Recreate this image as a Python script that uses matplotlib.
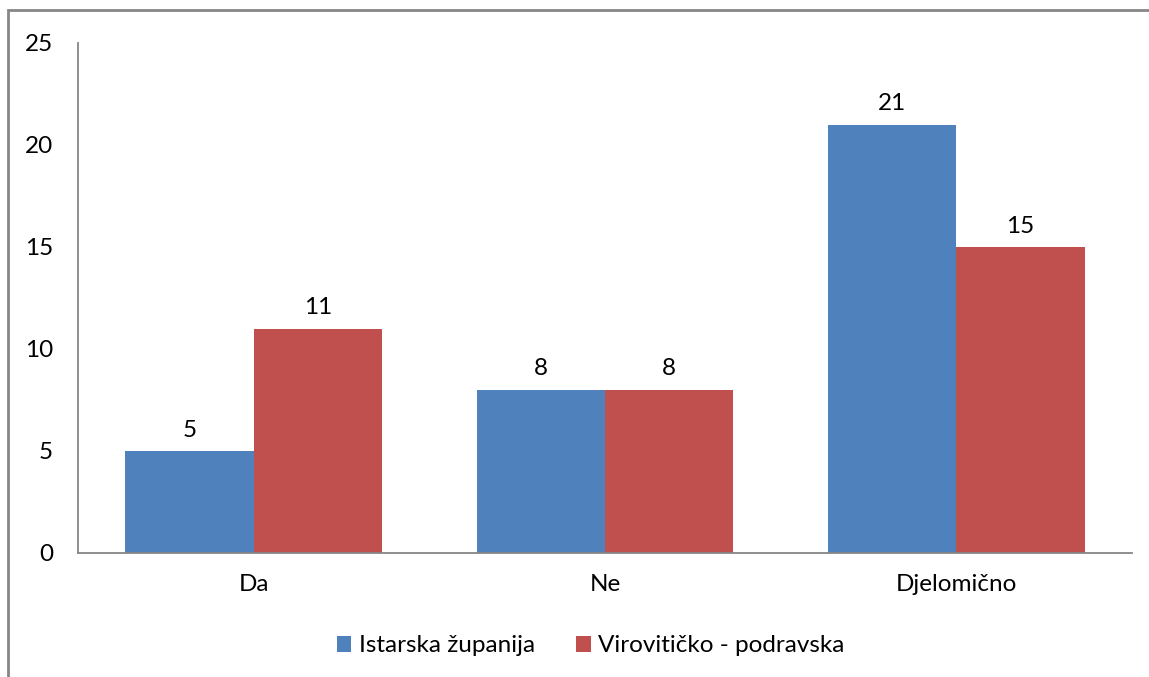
import numpy as np
import matplotlib
matplotlib.use('Agg')
import matplotlib.pyplot as plt
from matplotlib.patches import Rectangle

plt.rcParams['font.family'] = ['Lato', 'DejaVu Sans']

categories = ['Da', 'Ne', 'Djelomično']
istarska = [5, 8, 21]
virovitica = [11, 8, 15]
series_names = ['Istarska županija', 'Virovitičko - podravska']
colors = ['#4F81BD', '#C0504D']
yticks = [0, 5, 10, 15, 20, 25]

fig = plt.figure(figsize=(11.49, 6.77), dpi=100)
ax = fig.add_axes([0.0679, 0.1832, 0.9173, 0.7533])

# outer chart frame (runs off the right and bottom edges like the original)
frame = Rectangle((8 / 1149, -0.1), 1.2, 1 - 10 / 677 + 0.1, transform=fig.transFigure,
                  fill=False, edgecolor='#868686', linewidth=2, clip_on=False)
fig.patches.append(frame)

fs = 17.5
x = np.arange(len(categories))
w = 0.365
b1 = ax.bar(x - w / 2, istarska, w, color=colors[0], label=series_names[0])
b2 = ax.bar(x + w / 2, virovitica, w, color=colors[1], label=series_names[1])
for bars in (b1, b2):
    ax.bar_label(bars, padding=7.5, fontsize=fs)

ax.set_xlim(-0.5, len(categories) - 0.5)
ax.set_ylim(0, 25)
ax.set_yticks(yticks)
ax.set_xticks(x)
ax.set_xticklabels(categories)
ax.tick_params(axis='both', length=0, labelsize=fs)
ax.tick_params(axis='y', pad=18)
ax.tick_params(axis='x', pad=15)

for s in ('top', 'right'):
    ax.spines[s].set_visible(False)
for s in ('left', 'bottom'):
    ax.spines[s].set_color('#868686')
    ax.spines[s].set_linewidth(1.3)

fig.legend(handles=[b1, b2], loc='center', bbox_to_anchor=(0.514, 0.046), ncol=2,
           frameon=False, fontsize=fs, handlelength=0.6, handleheight=0.6,
           handletextpad=0.3, columnspacing=1.7)

fig.savefig('out.png', dpi=100)
